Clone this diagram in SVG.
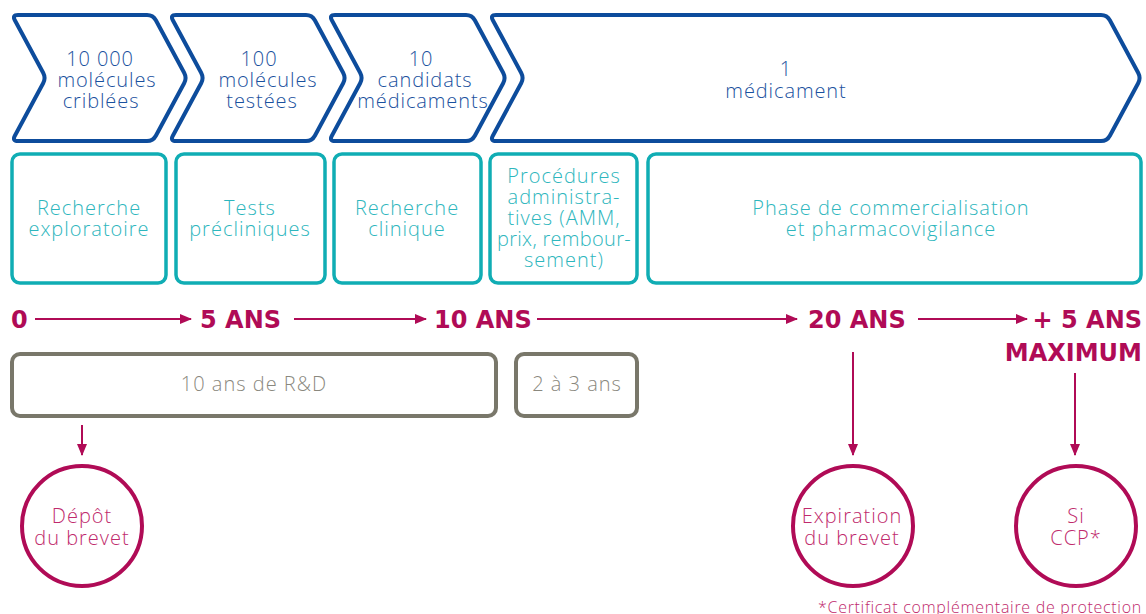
<svg xmlns="http://www.w3.org/2000/svg" width="1146" height="614" viewBox="0 0 1146 614">
<defs>
<marker id="ah" markerUnits="userSpaceOnUse" markerWidth="12" markerHeight="12" viewBox="0 0 12 12" refX="11" refY="6" orient="auto">
<path d="M0,1 L12,6 L0,11 Z" fill="#b00b56"/>
</marker>
<style>
.chev{fill:#fff;stroke:#0d4c9c;stroke-width:4}
.ct{font-family:"Open Sans","Liberation Sans",sans-serif;font-weight:300;font-size:20px;letter-spacing:0.9px;fill:#1a519e;text-anchor:middle}
.tb{fill:#fff;stroke:#10adb4;stroke-width:3.5}
.tt{font-family:"Open Sans","Liberation Sans",sans-serif;font-weight:300;font-size:20px;letter-spacing:1px;fill:#2db6bd;text-anchor:middle}
.gb{fill:#fff;stroke:#79776a;stroke-width:4}
.gt{font-family:"Open Sans","Liberation Sans",sans-serif;font-weight:300;font-size:20px;letter-spacing:1px;fill:#8a887e;text-anchor:middle}
.yr{font-family:"DejaVu Sans","Open Sans",sans-serif;font-weight:700;font-size:24px;fill:#b00b56}
.ln{stroke:#b00b56;stroke-width:2;fill:none}
.circ{fill:#fff;stroke:#b00b56;stroke-width:4}
.mt{font-family:"Open Sans","Liberation Sans",sans-serif;font-weight:300;font-size:20px;letter-spacing:1px;fill:#c02a6c;text-anchor:middle}
.fn{font-family:"Open Sans","Liberation Sans",sans-serif;font-weight:300;font-size:16px;letter-spacing:0.7px;fill:#c02a6c}
</style>
</defs>
<g id="chevron1">
<path class="chev" d="M18,15 H147 Q153,15 155.85,20.28 L184.15,72.72 Q187,78 184.15,83.28 L155.85,135.72 Q153,141 147,141 H18 Q12,141 14.85,135.72 L43.15,83.28 Q46,78 43.15,72.72 L14.85,20.28 Q12,15 18,15 Z"/>
<text class="ct" x="100" y="66">10 000</text>
<text class="ct" x="107" y="87">molécules</text>
<text class="ct" x="101" y="108">criblées</text>
</g>
<g id="chevron2">
<path class="chev" d="M176,15 H306 Q312,15 314.85,20.28 L343.15,72.72 Q346,78 343.15,83.28 L314.85,135.72 Q312,141 306,141 H176 Q170,141 172.85,135.72 L201.15,83.28 Q204,78 201.15,72.72 L172.85,20.28 Q170,15 176,15 Z"/>
<text class="ct" x="259" y="66">100</text>
<text class="ct" x="268" y="87">molécules</text>
<text class="ct" x="262" y="108">testées</text>
</g>
<g id="chevron3">
<path class="chev" d="M335,15 H466 Q472,15 474.85,20.28 L503.15,72.72 Q506,78 503.15,83.28 L474.85,135.72 Q472,141 466,141 H335 Q329,141 331.85,135.72 L360.15,83.28 Q363,78 360.15,72.72 L331.85,20.28 Q329,15 335,15 Z"/>
<text class="ct" x="421" y="66">10</text>
<text class="ct" x="425" y="87">candidats</text>
<text class="ct" x="423" y="108">médicaments</text>
</g>
<g id="chevron4">
<path class="chev" d="M496,15 H1101 Q1107,15 1109.85,20.28 L1138.15,72.72 Q1141,78 1138.15,83.28 L1109.85,135.72 Q1107,141 1101,141 H496 Q490,141 492.85,135.72 L521.15,83.28 Q524,78 521.15,72.72 L492.85,20.28 Q490,15 496,15 Z"/>
<text class="ct" x="786" y="76">1</text>
<text class="ct" x="786" y="98">médicament</text>
</g>
<g id="phase1">
<rect class="tb" x="12" y="154" width="154" height="129" rx="8"/>
<text class="tt" x="89" y="215">Recherche</text>
<text class="tt" x="89" y="236">exploratoire</text>
</g>
<g id="phase2">
<rect class="tb" x="176" y="154" width="149" height="129" rx="8"/>
<text class="tt" x="250" y="215">Tests</text>
<text class="tt" x="250" y="236">précliniques</text>
</g>
<g id="phase3">
<rect class="tb" x="334" y="154" width="147" height="129" rx="8"/>
<text class="tt" x="407" y="215">Recherche</text>
<text class="tt" x="407" y="236">clinique</text>
</g>
<g id="phase4">
<rect class="tb" x="490" y="154" width="147" height="129" rx="8"/>
<text class="tt" x="564" y="183">Procédures</text>
<text class="tt" x="564" y="204">administra-</text>
<text class="tt" x="564" y="225">tives (AMM,</text>
<text class="tt" x="564" y="246" style="letter-spacing:0.3px">prix, rembour-</text>
<text class="tt" x="564" y="267">sement)</text>
</g>
<g id="phase5">
<rect class="tb" x="648" y="154" width="493" height="129" rx="8"/>
<text class="tt" x="891" y="215">Phase de commercialisation</text>
<text class="tt" x="891" y="236">et pharmacovigilance</text>
</g>
<g id="timeline">
<text class="yr" x="11" y="328">0</text>
<text class="yr" x="200" y="328">5 ANS</text>
<text class="yr" x="434" y="328">10 ANS</text>
<text class="yr" x="808" y="328">20 ANS</text>
<text class="yr" x="1142" y="328" text-anchor="end">+ 5 ANS</text>
<text class="yr" x="1142" y="361" text-anchor="end">MAXIMUM</text>
</g>
<g id="rd">
<rect class="gb" x="12" y="354" width="484" height="62" rx="8"/>
<text class="gt" x="254" y="391">10 ans de R&amp;D</text>
</g>
<g id="admin">
<rect class="gb" x="516" y="354" width="121" height="62" rx="8"/>
<text class="gt" x="577" y="391">2 à 3 ans</text>
</g>
<g id="depot">
<circle class="circ" cx="82" cy="526" r="60"/>
<text class="mt" x="82" y="523">Dépôt</text>
<text class="mt" x="82" y="545">du brevet</text>
</g>
<g id="expiration">
<circle class="circ" cx="853" cy="526" r="60"/>
<text class="mt" x="852" y="523">Expiration</text>
<text class="mt" x="852" y="545">du brevet</text>
</g>
<g id="ccp">
<circle class="circ" cx="1076" cy="526" r="60"/>
<text class="mt" x="1076" y="523">Si</text>
<text class="mt" x="1076" y="545">CCP*</text>
</g>
<g id="connectors">
<line class="ln" x1="35" y1="319" x2="191" y2="319" marker-end="url(#ah)"/>
<line class="ln" x1="294" y1="319" x2="426" y2="319" marker-end="url(#ah)"/>
<line class="ln" x1="537" y1="319" x2="797" y2="319" marker-end="url(#ah)"/>
<line class="ln" x1="918" y1="319" x2="1027" y2="319" marker-end="url(#ah)"/>
<line class="ln" x1="82" y1="425" x2="82" y2="455" marker-end="url(#ah)"/>
<line class="ln" x1="853" y1="352" x2="853" y2="455" marker-end="url(#ah)"/>
<line class="ln" x1="1075" y1="373" x2="1075" y2="455" marker-end="url(#ah)"/>
</g>
<text class="fn" x="818" y="613">*Certificat complémentaire de protection</text>
</svg>
